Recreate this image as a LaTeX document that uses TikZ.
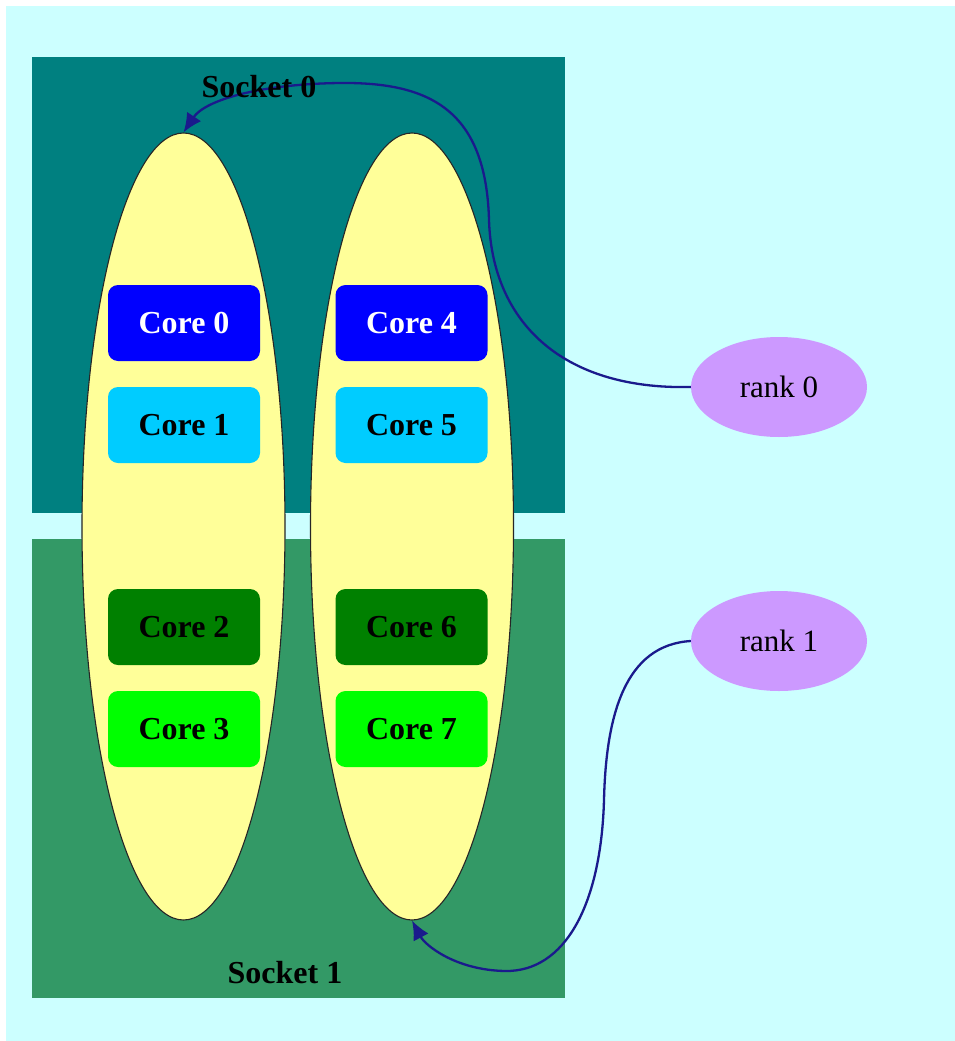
\documentclass[tikz,border=0pt]{standalone}
\usepackage{fontspec}
\setmainfont{Liberation Serif}
\usetikzlibrary{shapes.geometric,arrows.meta}
\definecolor{bgcyan}{HTML}{CCFFFF}
\definecolor{sockA}{HTML}{008080}
\definecolor{sockB}{HTML}{339966}
\definecolor{ellfill}{HTML}{FFFF99}
\definecolor{rankfill}{HTML}{CC99FF}
\definecolor{coreA}{HTML}{0000FF}
\definecolor{coreB}{HTML}{00CCFF}
\definecolor{coreC}{HTML}{008000}
\definecolor{coreD}{HTML}{00FF00}
\definecolor{arrowcol}{HTML}{1A1A8C}
\tikzset{
  socketbox/.style={draw=none, minimum width=533pt, inner sep=0pt, rectangle},
  numa/.style={ellipse, draw=black!85, line width=1.1pt, fill=ellfill, minimum width=203pt, minimum height=787pt, inner sep=0pt},
  corebox/.style={rectangle, rounded corners=10pt, minimum width=152pt, minimum height=76pt, inner sep=0pt, font=\fontsize{32}{36}\selectfont\bfseries},
  rankell/.style={ellipse, fill=rankfill, draw=none, minimum width=176pt, minimum height=100pt, inner sep=0pt, font=\fontsize{31}{36}\selectfont},
  socklabel/.style={font=\fontsize{32}{36}\selectfont\bfseries, inner sep=0pt},
  link/.style={draw=arrowcol, line width=2.3pt, -{Latex[length=19pt,width=17pt]}}
}
\begin{document}
\begin{tikzpicture}[x=1pt,y=-1pt]
\useasboundingbox (0,0) rectangle (955,1041);
\fill[white] (0,0) rectangle (955,1041);
\fill[bgcyan] (6,6) rectangle (955,1041);
% sockets
\node[socketbox, fill=sockA, minimum height=456pt] (s0) at (298.5,285) {};
\node[socketbox, fill=sockB, minimum height=459pt] (s1) at (298.5,768.5) {};
% numa ellipses
\node[numa] (eL) at (183.5,526.5) {};
\node[numa] (eR) at (412,526.5) {};
% cores
\node[corebox, fill=coreA, text=white] (c0) at (184,323) {Core 0};
\node[corebox, fill=coreB] (c1) at (184,425) {Core 1};
\node[corebox, fill=coreC] (c2) at (184,627) {Core 2};
\node[corebox, fill=coreD] (c3) at (184,729) {Core 3};
\node[corebox, fill=coreA, text=white] (c4) at (411.5,323) {Core 4};
\node[corebox, fill=coreB] (c5) at (411.5,425) {Core 5};
\node[corebox, fill=coreC] (c6) at (411.5,627) {Core 6};
\node[corebox, fill=coreD] (c7) at (411.5,729) {Core 7};
% ranks
\node[rankell] (r0) at (779,387) {rank 0};
\node[rankell] (r1) at (779,641) {rank 1};
% arrows
\draw[link] (r0.west) .. controls (560,390) and (492,320) .. (489,220)
  .. controls (486,110) and (430,82) .. (340,83)
  .. controls (260,84) and (205,100) .. (eL.north);
\draw[link] (r1.west) .. controls (625,645) and (606,715) .. (604,800)
  .. controls (601,905) and (565,972) .. (505,971)
  .. controls (455,970) and (425,945) .. (eR.south);
% socket labels
\node[socklabel] (l0) at (259,87) {Socket 0};
\node[socklabel] (l1) at (285,973) {Socket 1};
\end{tikzpicture}
\end{document}
